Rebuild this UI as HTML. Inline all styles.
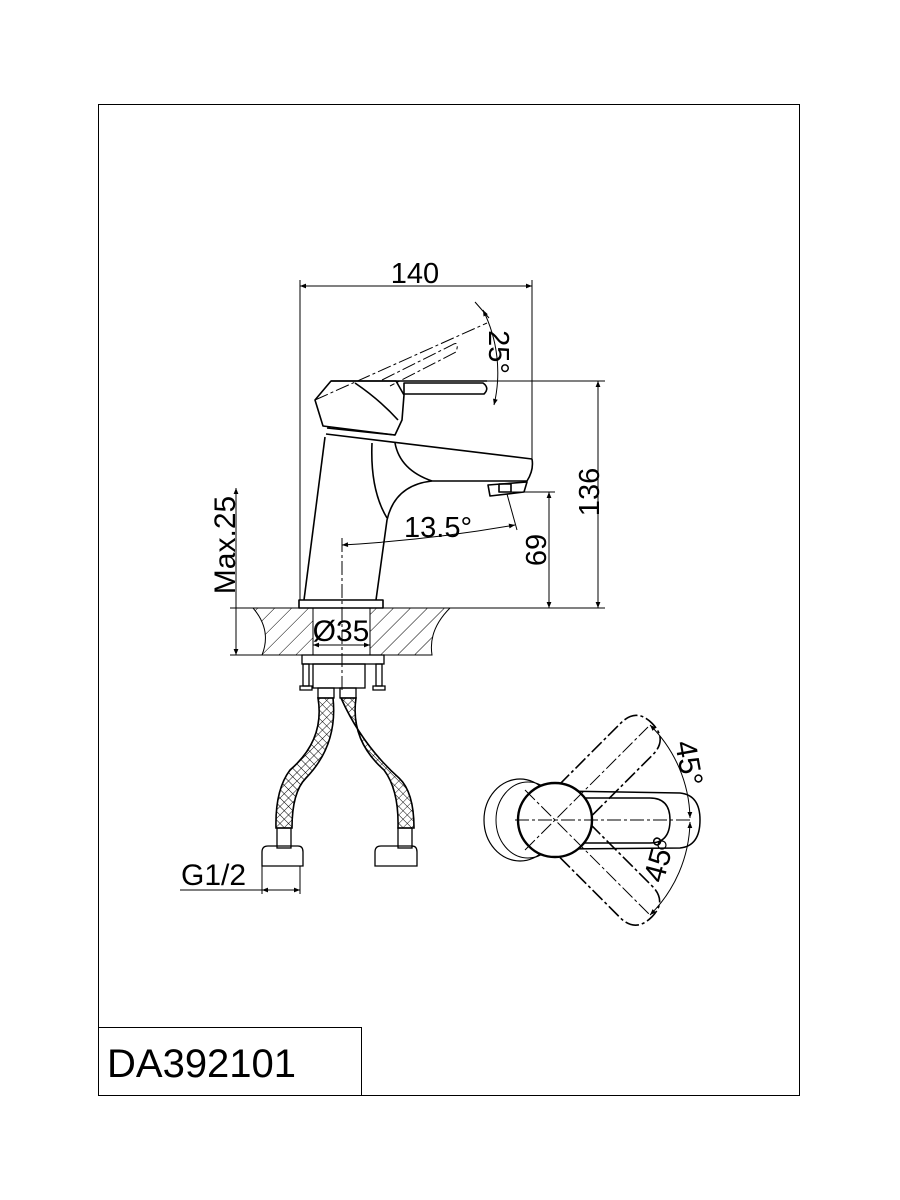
<!DOCTYPE html>
<html><head><style>html,body{margin:0;padding:0;background:#fff}svg{display:block}</style></head>
<body>
<svg width="900" height="1200" viewBox="0 0 900 1200" xmlns="http://www.w3.org/2000/svg" font-family="Liberation Sans, sans-serif">
<defs>
<marker id="a" viewBox="0 0 10 10" refX="10" refY="5" markerWidth="9" markerHeight="6" orient="auto-start-reverse" markerUnits="userSpaceOnUse"><path d="M0,1 L10,5 L0,9 Z" fill="#000"/></marker>
<pattern id="h" width="12" height="12" patternUnits="userSpaceOnUse" patternTransform="rotate(45)"><line x1="0" y1="0" x2="0" y2="12" stroke="#000" stroke-width="1"/></pattern>
<pattern id="x" width="6" height="6" patternUnits="userSpaceOnUse" patternTransform="rotate(45)"><path d="M0,0 H6 M0,0 V6" stroke="#000" stroke-width="0.9" fill="none"/></pattern>
</defs>
<rect x="98.5" y="104.5" width="701" height="991" fill="none" stroke="#000" stroke-width="1"/>
<rect x="98.5" y="1027.5" width="263" height="68" fill="none" stroke="#000" stroke-width="1"/>
<text x="107" y="1077" font-size="40">DA392101</text>

<g fill="none" stroke="#000" stroke-width="1">
<line x1="300" y1="286" x2="532" y2="286" marker-start="url(#a)" marker-end="url(#a)"/>
<line x1="300" y1="280" x2="300" y2="600"/>
<line x1="532" y1="280" x2="532" y2="460"/>
<line x1="400" y1="381" x2="605" y2="381"/>
<line x1="598" y1="381" x2="598" y2="608" marker-start="url(#a)" marker-end="url(#a)"/>
<line x1="510" y1="492" x2="555" y2="492"/>
<line x1="549" y1="492" x2="549" y2="608" marker-start="url(#a)" marker-end="url(#a)"/>
<line x1="385" y1="608" x2="605" y2="608"/>
<line x1="230" y1="608" x2="300" y2="608"/>
<line x1="230" y1="655" x2="262" y2="655"/>
<line x1="236" y1="488" x2="236" y2="655" marker-start="url(#a)" marker-end="url(#a)"/>
</g>
<text font-size="29" x="415" y="283" text-anchor="middle">140</text>
<text font-size="29" transform="translate(599,492) rotate(-90)" text-anchor="middle">136</text>
<text font-size="29" transform="translate(546,550) rotate(-90)" text-anchor="middle">69</text>
<text font-size="30" transform="translate(235,545) rotate(-90)" text-anchor="middle">Max.25</text>
<text font-size="29" transform="translate(489,352) rotate(90)" text-anchor="middle">25°</text>
<text font-size="29" x="404" y="537">13.5°</text>
<text font-size="30" x="341" y="641" text-anchor="middle">Ø35</text>

<path d="M253,608 L313,608 L313,655 L262,655 Q272,630 253,608 Z" fill="url(#h)" stroke="#000"/>
<path d="M370,608 L450,608 Q428,630 432,655 L370,655 Z" fill="url(#h)" stroke="#000"/>
<line x1="313" y1="645" x2="370" y2="645" stroke="#000" marker-start="url(#a)" marker-end="url(#a)"/>

<g fill="none" stroke="#000" stroke-width="1.6" stroke-linejoin="round">
<rect x="299" y="600" width="84" height="8"/>
<path d="M304,600 L325,437"/>
<path d="M376,600 L387,520 Q395,485 432,481 L527,481 Q534,470 532,459"/>
<path d="M326,434 L532,459"/>
<path d="M327,428 L395,435"/>
<path d="M372,443 Q370,490 387,518"/>
<path d="M395,443 Q400,470 432,481"/>
<path d="M488,485 L527,482 L524,492 L490,496 Z"/>
<rect x="499" y="484" width="12" height="8"/>
<path d="M331,381 L315,400 L323,426 L395,435 L402,420 L404,395 L396,381 Z"/>
<path d="M331,381 L487,381"/>
<path d="M404,383 L483,383 Q490,388 484,394 L404,394 Z"/>
<path d="M355,383 Q380,400 398,420"/>
</g>
<g fill="none" stroke="#000" stroke-width="1">
<path d="M315,400 L487,323" stroke-dasharray="14,3,3,3"/>
<path d="M382,380 L452,345 Q460,340 456,352 L390,386" stroke-dasharray="14,3,3,3"/>
<line x1="475" y1="302" x2="489" y2="318"/>
<path d="M483,310 A140,140 0 0 1 494,405" marker-start="url(#a)" marker-end="url(#a)"/>
<line x1="342" y1="538" x2="342" y2="690" stroke-dasharray="14,3,3,3"/>
<path d="M342,545 Q430,540 515,525" marker-start="url(#a)" marker-end="url(#a)"/>
<line x1="507" y1="494" x2="517" y2="530"/>
</g>

<g fill="none" stroke="#000" stroke-width="1.3">
<rect x="302" y="655" width="82" height="9"/>
<rect x="313" y="664" width="52" height="24"/>
<rect x="303" y="664" width="6" height="22"/><rect x="376" y="664" width="6" height="22"/>
<path d="M300,686 h12 v4 h-12 z M373,686 h12 v4 h-12 z"/>
<rect x="318" y="688" width="16" height="10"/><rect x="340" y="688" width="16" height="10"/>
<path d="M318,698 Q325,740 290,770 Q275,790 276,828 L292,828 Q292,792 306,778 Q338,745 333,698 Z" fill="url(#x)" stroke-width="1.6"/>
<path d="M356,698 Q350,740 384,770 Q399,790 398,828 L414,828 Q414,792 399,778 Q362,745 341,698 Z" fill="url(#x)" stroke-width="1.6"/>
<rect x="277" y="828" width="14" height="20"/><rect x="398" y="828" width="14" height="20"/>
<path d="M262,852 Q262,846 268,846 L298,846 Q303,846 303,852 L303,866 L262,866 Z"/>
<path d="M375,852 Q375,846 381,846 L412,846 Q417,846 417,852 L417,866 L375,866 Z"/>
<line x1="262" y1="866" x2="262" y2="894" stroke-width="1"/>
<line x1="300" y1="866" x2="300" y2="894" stroke-width="1"/>
<line x1="180" y1="890" x2="300" y2="890" stroke-width="1"/>
<line x1="262" y1="890" x2="300" y2="890" stroke-width="1" marker-start="url(#a)" marker-end="url(#a)"/>
</g>
<text font-size="30" x="181" y="885">G1/2</text>

<g fill="none" stroke="#000">
<ellipse cx="520" cy="820" rx="36" ry="41" stroke-width="1.2"/>
<ellipse cx="528" cy="820" rx="32" ry="38" stroke-width="1"/>
<path d="M560,791 L680,793 Q700,795 700,820 Q700,846 680,848 L560,849" stroke-width="1.5"/>
<path d="M570,798 L650,798 Q670,798 670,820 Q670,843 650,843 L570,843" stroke-width="1.5"/>
<circle cx="662" cy="845" r="4" stroke-width="1.2"/>
<g transform="rotate(-45 555 820)" stroke-dasharray="14,3,3,3" stroke-width="1.6">
<path d="M560,798 L670,798 Q692,798 692,820 Q692,843 670,843 L560,843"/>
</g>
<g transform="rotate(45 555 820)" stroke-dasharray="14,3,3,3" stroke-width="1.6">
<path d="M560,798 L670,798 Q692,798 692,820 Q692,843 670,843 L560,843"/>
</g>
<circle cx="555" cy="820" r="37" fill="#fff" stroke-width="2.4"/>
<g stroke-width="1" stroke-dasharray="14,3,3,3">
<line x1="515" y1="820" x2="690" y2="820"/>
<line x1="525" y1="790" x2="650" y2="915"/>
<line x1="525" y1="850" x2="648" y2="727"/>
</g>
<path d="M650,725 A135,135 0 0 1 690,818" stroke-width="1" marker-start="url(#a)" marker-end="url(#a)"/>
<path d="M690,822 A135,135 0 0 1 650,915" stroke-width="1" marker-start="url(#a)" marker-end="url(#a)"/>
</g>
<text font-size="30" transform="translate(679,765) rotate(80)" text-anchor="middle">45°</text>
<text font-size="30" transform="translate(669,862) rotate(-75)" text-anchor="middle">45°</text>
</svg>
</body></html>
